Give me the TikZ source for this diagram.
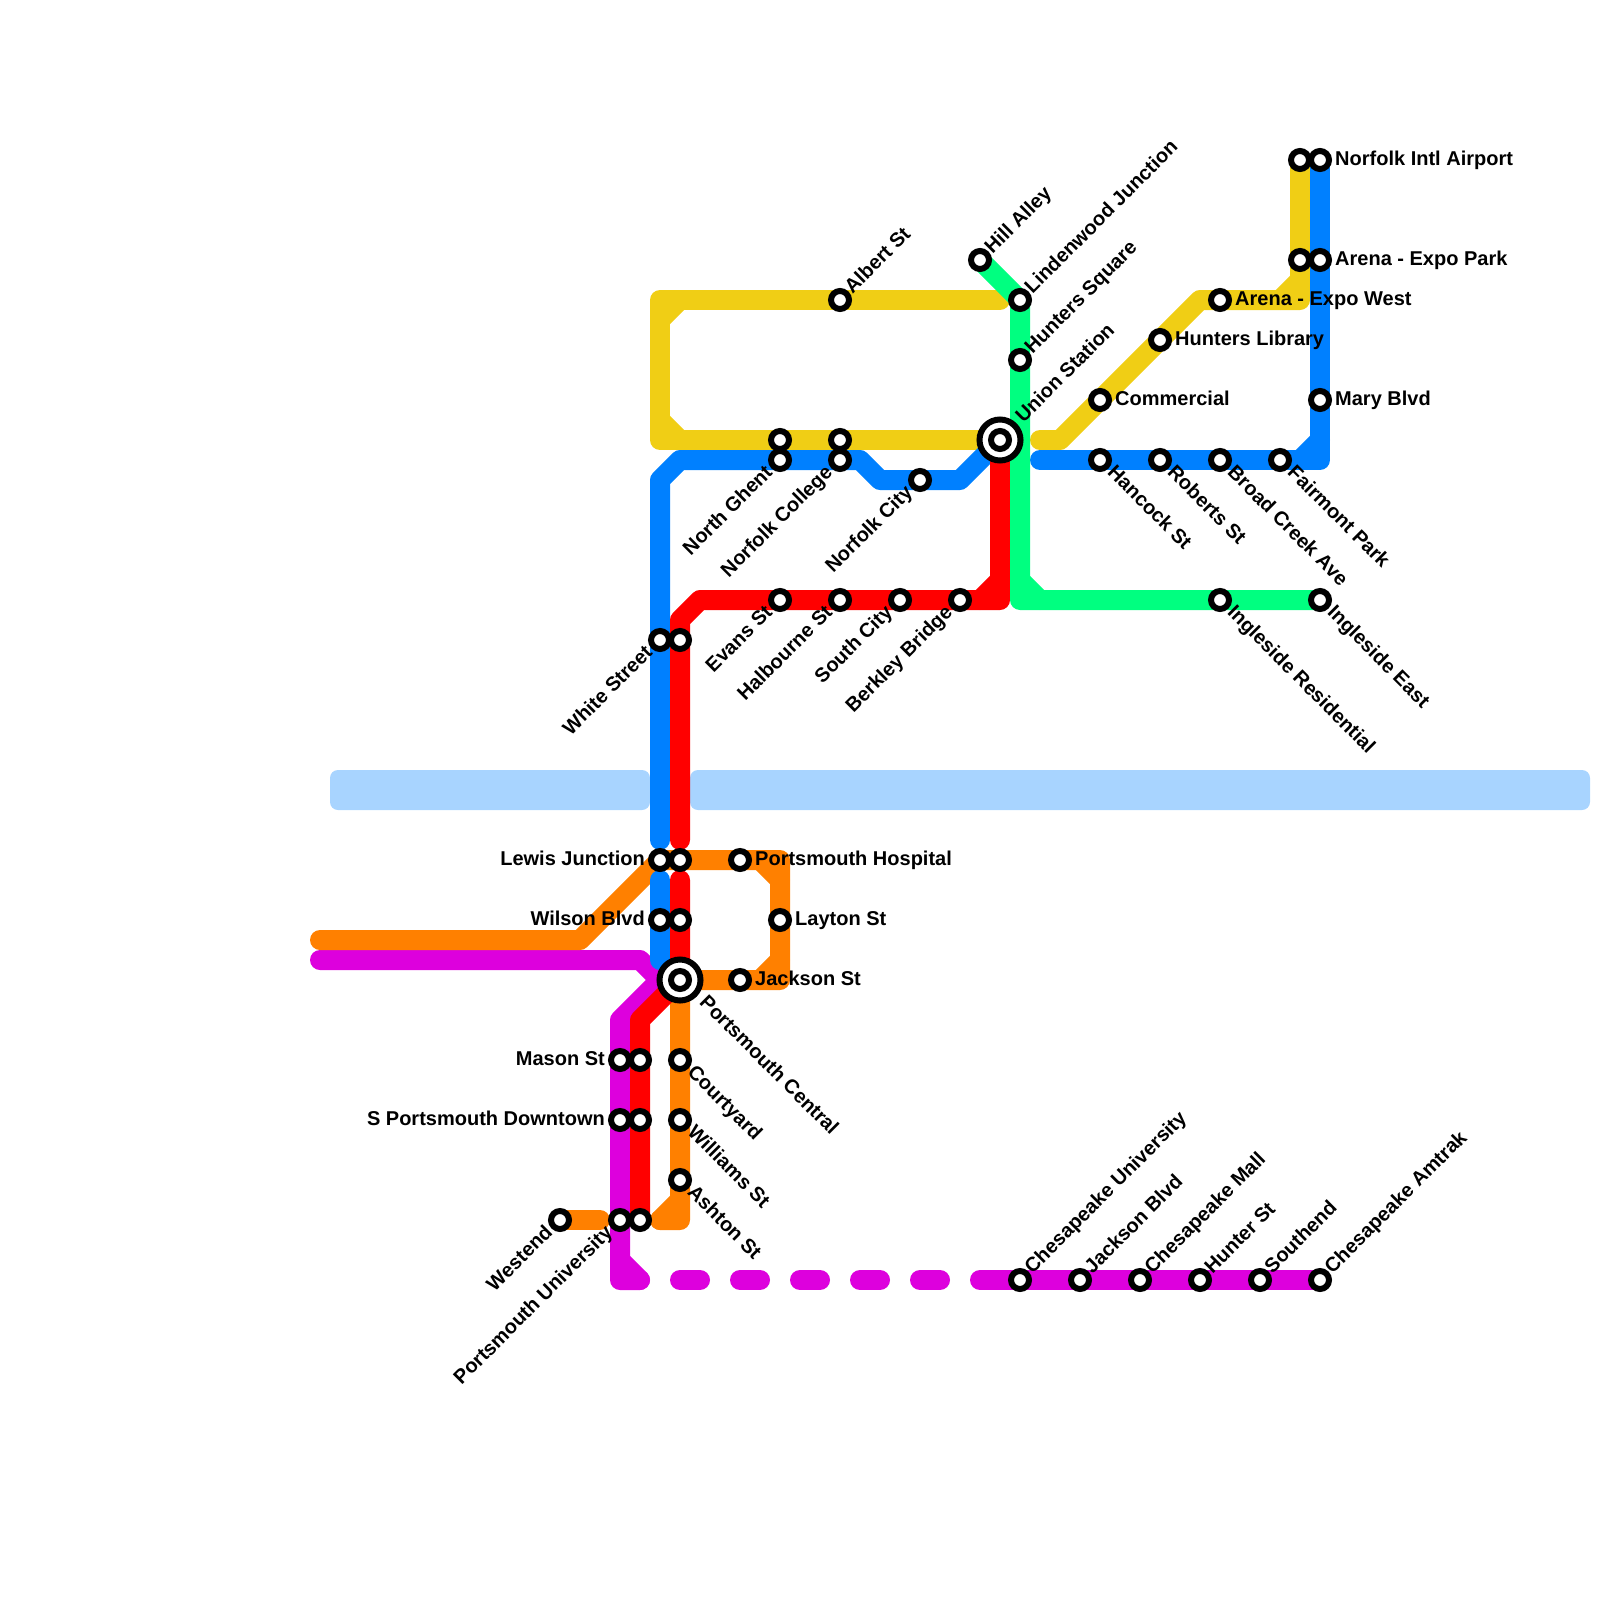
\documentclass[tikz,border=0pt]{standalone}
\usepackage{fontspec}
\setmainfont{Liberation Sans}
\usetikzlibrary{backgrounds}
\definecolor{lineyellow}{HTML}{F0CE15}
\definecolor{lineblue}{HTML}{0080FF}
\definecolor{linered}{HTML}{FF0000}
\definecolor{linegreen}{HTML}{00FF80}
\definecolor{lineorange}{HTML}{FF8000}
\definecolor{linemagenta}{HTML}{DD00DD}
\definecolor{river}{HTML}{A8D4FF}
\tikzset{
	metro/.style={line width=20pt, line join=round, line cap=round},
	stn/.style={circle, draw=black, fill=white, line width=6pt, minimum size=18pt, inner sep=0pt},
	stnbig/.style={circle, draw=black, fill=white, line width=6pt, minimum size=41pt, inner sep=0pt},
	lbl/.style={inner sep=0pt, text height=14pt, text depth=4pt, font=\fontsize{20}{24}\selectfont\bfseries},
	lblr/.style={lbl, xshift=15pt, anchor=west},
	lbll/.style={lbl, xshift=-15pt, anchor=east},
	lblne/.style={lbl, xshift=9pt, yshift=9pt, rotate=45, anchor=west},
	lblse/.style={lbl, xshift=10pt, yshift=-10pt, rotate=-45, anchor=west},
	lblsw/.style={lbl, xshift=-10pt, yshift=-10pt, rotate=45, anchor=east},
	lblnebig/.style={lbl, xshift=20pt, yshift=20pt, rotate=45, anchor=west},
	lblsebig/.style={lbl, xshift=22pt, yshift=-20pt, rotate=-45, anchor=west},
}
\begin{document}
\begin{tikzpicture}[x=20pt, y=-20pt]
		\useasboundingbox (0,0) rectangle (80,80);
		% stations
		\node[stnbig] (union) at (50,22) {};
		\node[stn] (unionin) at (union) {};
		\node[lblnebig] (unionlbl) at (union) {Union Station};
		\node[stnbig] (central) at (34,49) {};
		\node[stn] (centralin) at (central) {};
		\node[lblsebig] (centrallbl) at (central) {Portsmouth Central};
		\node[stn] (airporty) at (65,8) {};
		\node[stn] (airport) at (66,8) {};
		\node[lblr] (airportlbl) at (airport) {Norfolk Intl Airport};
		\node[stn] (expoy) at (65,13) {};
		\node[stn] (expo) at (66,13) {};
		\node[lblr] (expolbl) at (expo) {Arena - Expo Park};
		\node[stn] (expow) at (61,15) {};
		\node[lblr] (expowlbl) at (expow) {Arena - Expo West};
		\node[stn] (hlibrary) at (58,17) {};
		\node[lblr] (hlibrarylbl) at (hlibrary) {Hunters Library};
		\node[stn] (commercial) at (55,20) {};
		\node[lblr] (commerciallbl) at (commercial) {Commercial};
		\node[stn] (mary) at (66,20) {};
		\node[lblr] (marylbl) at (mary) {Mary Blvd};
		\node[stn] (hancock) at (55,23) {};
		\node[lblse] (hancocklbl) at (hancock) {Hancock St};
		\node[stn] (roberts) at (58,23) {};
		\node[lblse] (robertslbl) at (roberts) {Roberts St};
		\node[stn] (broad) at (61,23) {};
		\node[lblse] (broadlbl) at (broad) {Broad Creek Ave};
		\node[stn] (fairmont) at (64,23) {};
		\node[lblse] (fairmontlbl) at (fairmont) {Fairmont Park};
		\node[stn] (iresid) at (61,30) {};
		\node[lblse] (iresidlbl) at (iresid) {Ingleside Residential};
		\node[stn] (ieast) at (66,30) {};
		\node[lblse] (ieastlbl) at (ieast) {Ingleside East};
		\node[stn] (hill) at (49,13) {};
		\node[lblne] (hilllbl) at (hill) {Hill Alley};
		\node[stn] (linden) at (51,15) {};
		\node[lblne] (lindenlbl) at (linden) {Lindenwood Junction};
		\node[stn] (hsquare) at (51,18) {};
		\node[lblne] (hsquarelbl) at (hsquare) {Hunters Square};
		\node[stn] (albert) at (42,15) {};
		\node[lblne] (albertlbl) at (albert) {Albert St};
		\node[stn] (ghenty) at (39,22) {};
		\node[stn] (ghent) at (39,23) {};
		\node[lblsw] (ghentlbl) at (ghent) {North Ghent};
		\node[stn] (collegey) at (42,22) {};
		\node[stn] (college) at (42,23) {};
		\node[lblsw] (collegelbl) at (college) {Norfolk College};
		\node[stn] (ncity) at (46,24) {};
		\node[lblsw] (ncitylbl) at (ncity) {Norfolk City};
		\node[stn] (evans) at (39,30) {};
		\node[lblsw] (evanslbl) at (evans) {Evans St};
		\node[stn] (halbourne) at (42,30) {};
		\node[lblsw] (halbournelbl) at (halbourne) {Halbourne St};
		\node[stn] (scity) at (45,30) {};
		\node[lblsw] (scitylbl) at (scity) {South City};
		\node[stn] (berkley) at (48,30) {};
		\node[lblsw] (berkleylbl) at (berkley) {Berkley Bridge};
		\node[stn] (white) at (33,32) {};
		\node[stn] (whiter) at (34,32) {};
		\node[lblsw] (whitelbl) at (white) {White Street};
		\node[stn] (lewis) at (33,43) {};
		\node[stn] (lewisr) at (34,43) {};
		\node[lbll] (lewislbl) at (lewis) {Lewis Junction};
		\node[stn] (hospital) at (37,43) {};
		\node[lblr] (hospitallbl) at (hospital) {Portsmouth Hospital};
		\node[stn] (wilson) at (33,46) {};
		\node[stn] (wilsonr) at (34,46) {};
		\node[lbll] (wilsonlbl) at (wilson) {Wilson Blvd};
		\node[stn] (layton) at (39,46) {};
		\node[lblr] (laytonlbl) at (layton) {Layton St};
		\node[stn] (jackson) at (37,49) {};
		\node[lblr] (jacksonlbl) at (jackson) {Jackson St};
		\node[stn] (mason) at (31,53) {};
		\node[stn] (masonr) at (32,53) {};
		\node[lbll] (masonlbl) at (mason) {Mason St};
		\node[stn] (downtown) at (31,56) {};
		\node[stn] (downtownr) at (32,56) {};
		\node[lbll] (downtownlbl) at (downtown) {S Portsmouth Downtown};
		\node[stn] (puniv) at (31,61) {};
		\node[stn] (punivr) at (32,61) {};
		\node[lblsw] (punivlbl) at (puniv) {Portsmouth University};
		\node[stn] (westend) at (28,61) {};
		\node[lblsw] (westendlbl) at (westend) {Westend};
		\node[stn] (courtyard) at (34,53) {};
		\node[lblse] (courtyardlbl) at (courtyard) {Courtyard};
		\node[stn] (williams) at (34,56) {};
		\node[lblse] (williamslbl) at (williams) {Williams St};
		\node[stn] (ashton) at (34,59) {};
		\node[lblse] (ashtonlbl) at (ashton) {Ashton St};
		\node[stn] (cuniv) at (51,64) {};
		\node[lblne] (cunivlbl) at (cuniv) {Chesapeake University};
		\node[stn] (jblvd) at (54,64) {};
		\node[lblne] (jblvdlbl) at (jblvd) {Jackson Blvd};
		\node[stn] (cmall) at (57,64) {};
		\node[lblne] (cmalllbl) at (cmall) {Chesapeake Mall};
		\node[stn] (hunter) at (60,64) {};
		\node[lblne] (hunterlbl) at (hunter) {Hunter St};
		\node[stn] (southend) at (63,64) {};
		\node[lblne] (southendlbl) at (southend) {Southend};
		\node[stn] (amtrak) at (66,64) {};
		\node[lblne] (amtraklbl) at (amtrak) {Chesapeake Amtrak};
		% bends
		\coordinate (ynorth) at (50,15);
		\coordinate (ycorna) at (33,15);
		\coordinate (ycornb) at (33,22);
		\coordinate (ystart) at (52,22);
		\coordinate (ybenda) at (53,22);
		\coordinate (ybendb) at (60,15);
		\coordinate (ycornc) at (65,15);
		\coordinate (bcorn) at (66,23);
		\coordinate (bstart) at (52,23);
		\coordinate (bbenda) at (48,24);
		\coordinate (bbendb) at (44,24);
		\coordinate (bbendc) at (43,23);
		\coordinate (bbendd) at (34,23);
		\coordinate (bbende) at (33,24);
		\coordinate (bstopa) at (33,42);
		\coordinate (bstartb) at (33,44);
		\coordinate (bstopb) at (33,48);
		\coordinate (rcorn) at (50,30);
		\coordinate (rbenda) at (35,30);
		\coordinate (rbendb) at (34,31);
		\coordinate (rstopa) at (34,42);
		\coordinate (rstartb) at (34,44);
		\coordinate (rbendc) at (32,51);
		\coordinate (gcorn) at (51,30);
		\coordinate (oleft) at (16,47);
		\coordinate (obenda) at (29,47);
		\coordinate (ocorna) at (39,43);
		\coordinate (ocornb) at (39,49);
		\coordinate (ocornc) at (34,61);
		\coordinate (oend) at (33,61);
		\coordinate (ostop) at (30,61);
		\coordinate (mleft) at (16,48);
		\coordinate (mbenda) at (32,48);
		\coordinate (mbendb) at (33,49);
		\coordinate (mbendc) at (31,51);
		\coordinate (mcorn) at (31,64);
		\coordinate (mend) at (32,64);
		\coordinate (mdash) at (49,64);
		% lines
		\begin{scope}[on background layer]
			\fill[river, rounded corners=8pt] (16.5,38.5) rectangle (32.5,40.5);
			\fill[river, rounded corners=8pt] (34.5,38.5) rectangle (79.5,40.5);
			\draw[metro, linemagenta] (mleft) -- (mbenda) -- (mbendb) -- (mbendc) -- (mcorn) -- (mend);
			\draw[metro, linemagenta] (mcorn) +(0,-1) -- +(1,0);
			\foreach \x in {34,37,...,46}
				\draw[metro, linemagenta] (\x,64) -- (\x+1,64);
			\draw[metro, linemagenta] (mdash) -- (amtrak.center);
			\draw[metro, lineyellow] (ynorth) -- (ycorna) -- (ycornb) -- (union.center);
			\draw[metro, lineyellow] (ycorna) +(1,0) -- +(0,1);
			\draw[metro, lineyellow] (ycornb) +(0,-1) -- +(1,0);
			\draw[metro, lineyellow] (ystart) -- (ybenda) -- (ybendb) -- (ycornc) -- (airporty.center);
			\draw[metro, lineyellow] (ycornc) +(-1,0) -- +(0,-1);
			\draw[metro, lineorange] (oleft) -- (obenda) -- (lewis.center) -- (ocorna) -- (ocornb) -- (central.center) -- (ocornc) -- (oend);
			\draw[metro, lineorange] (ocorna) +(-1,0) -- +(0,1);
			\draw[metro, lineorange] (ocornb) +(0,-1) -- +(-1,0);
			\draw[metro, lineorange] (ocornc) +(0,-1) -- +(-1,0);
			\draw[metro, lineorange] (westend.center) -- (ostop);
			\draw[metro, lineblue] (airport.center) -- (bcorn) -- (bstart);
			\draw[metro, lineblue] (bcorn) +(0,-1) -- +(-1,0);
			\draw[metro, lineblue] (union.center) -- (bbenda) -- (bbendb) -- (bbendc) -- (bbendd) -- (bbende) -- (bstopa);
			\draw[metro, lineblue] (bstartb) -- (bstopb);
			\draw[metro, linered] (union.center) -- (rcorn) -- (rbenda) -- (rbendb) -- (rstopa);
			\draw[metro, linered] (rcorn) +(0,-1) -- +(-1,0);
			\draw[metro, linered] (rstartb) -- (central.center) -- (rbendc) -- (punivr.center);
			\draw[metro, linegreen] (hill.center) -- (linden.center) -- (gcorn) -- (ieast.center);
			\draw[metro, linegreen] (gcorn) +(0,-1) -- +(1,0);
		\end{scope}
	\end{tikzpicture}
\end{document}
